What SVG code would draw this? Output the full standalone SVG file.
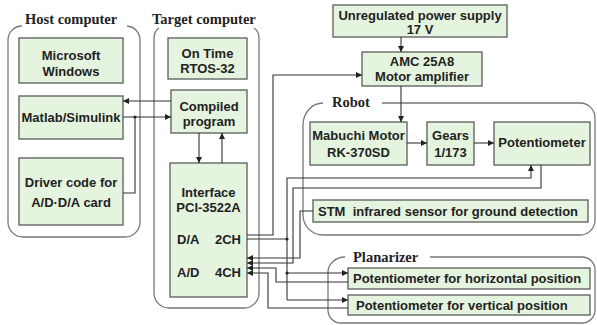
<svg xmlns="http://www.w3.org/2000/svg" width="597" height="325" viewBox="0 0 597 325">
<defs>
<marker id="ah" viewBox="0 0 10 10" refX="10" refY="5" markerWidth="6" markerHeight="6" markerUnits="userSpaceOnUse" orient="auto">
<path d="M0,0 L10,5 L0,10 z" fill="#222"/>
</marker>
<style>
.box{fill:#e5f4df;stroke:#666;stroke-width:1.4}
.panel{fill:none;stroke:#777;stroke-width:1.3}
.t{font-family:"Liberation Sans",Arial,sans-serif;font-weight:bold;font-size:13px;fill:#222;text-anchor:middle}
.ts{font-family:"Liberation Sans",Arial,sans-serif;font-weight:bold;font-size:13px;fill:#222}
.title{font-family:"Liberation Serif","Times New Roman",serif;font-weight:bold;font-size:14.5px;fill:#222}
.w{fill:none;stroke:#333;stroke-width:1.1}
.a{fill:none;stroke:#333;stroke-width:1.1;marker-end:url(#ah)}
</style>
</defs>
<rect width="597" height="325" fill="#fff"/>

<g id="panels">
<g id="host-panel">
<path class="panel" d="M22,26 A14,14 0 0 0 8,40 L8,222 A15,15 0 0 0 23,237 L125,237 A15,15 0 0 0 140,222 L140,40 A14,14 0 0 0 127,26"/>
<text class="title" x="25" y="24">Host computer</text>
</g>
<g id="target-panel">
<path class="panel" d="M159,28 A8,12 0 0 0 154,40 L154,293 A15,15 0 0 0 169,308 L244,308 A15,15 0 0 0 259,293 L259,40 A8,12 0 0 0 254,28"/>
<text class="title" x="152" y="24">Target computer</text>
</g>
<g id="robot-panel">
<path class="panel" d="M323,103 A20,22 0 0 0 303,125 L303,215 A20,20 0 0 0 323,235 L580,235 A15,15 0 0 0 595,220 L595,118 A15,15 0 0 0 580,103 L382,103"/>
<text class="title" x="332" y="107">Robot</text>
</g>
<g id="planarizer-panel">
<path class="panel" d="M345,257 A17,15 0 0 0 328,272 L328,310 A13,13 0 0 0 341,323 L582,323 A13,13 0 0 0 595,310 L595,270 A13,13 0 0 0 582,257 L430,257"/>
<text class="title" x="353" y="262">Planarizer</text>
</g>
</g>

<g id="n-windows"><rect class="box" x="19" y="38" width="104" height="45"/><text class="t" x="71" y="60">Microsoft</text><text class="t" x="71" y="76">Windows</text></g>
<g id="n-matlab"><rect class="box" x="19" y="96" width="104" height="43"/><text class="t" x="71" y="122">Matlab/Simulink</text></g>
<g id="n-driver"><rect class="box" x="19" y="158" width="104" height="67"/><text class="t" x="71" y="187">Driver code for</text><text class="t" x="71" y="207">A/D·D/A card</text></g>
<g id="n-rtos"><rect class="box" x="168" y="38" width="79" height="41"/><text class="t" x="207.5" y="58">On Time</text><text class="t" x="207.5" y="73">RTOS-32</text></g>
<g id="n-compiled"><rect class="box" x="171" y="90" width="76" height="43"/><text class="t" x="209" y="111">Compiled</text><text class="t" x="209" y="126">program</text></g>
<g id="n-interface"><rect class="box" x="170" y="163" width="77" height="134"/><text class="t" x="208.5" y="197">Interface</text><text class="t" x="208.5" y="212">PCI-3522A</text><text class="ts" x="177" y="244">D/A</text><text class="ts" x="241" y="244" text-anchor="end">2CH</text><text class="ts" x="177" y="277">A/D</text><text class="ts" x="241" y="277" text-anchor="end">4CH</text></g>
<g id="n-power"><rect class="box" x="333" y="5" width="174" height="32"/><text class="t" x="420" y="20">Unregulated power supply</text><text class="t" x="420" y="34">17 V</text></g>
<g id="n-amc"><rect class="box" x="362" y="52" width="120" height="34"/><text class="t" x="422" y="66">AMC 25A8</text><text class="t" x="422" y="81">Motor amplifier</text></g>
<g id="n-motor"><rect class="box" x="310" y="122" width="97" height="43"/><text class="t" x="358.5" y="140">Mabuchi Motor</text><text class="t" x="358.5" y="157">RK-370SD</text></g>
<g id="n-gears"><rect class="box" x="427" y="122" width="47" height="43"/><text class="t" x="450.5" y="140">Gears</text><text class="t" x="450.5" y="157">1/173</text></g>
<g id="n-pot"><rect class="box" x="494" y="122" width="96" height="43"/><text class="t" x="542" y="147">Potentiometer</text></g>
<g id="n-stm"><rect class="box" x="313" y="200" width="275" height="22"/><text class="ts" x="318" y="216" xml:space="preserve">STM  infrared sensor for ground detection</text></g>
<g id="n-hpot"><rect class="box" x="348" y="268" width="242" height="21"/><text class="ts" x="353" y="283">Potentiometer for horizontal position</text></g>
<g id="n-vpot"><rect class="box" x="348" y="295" width="242" height="20"/><text class="ts" x="356" y="310">Potentiometer for vertical position</text></g>

<g id="connectors">
<path class="a" d="M171,101 H123"/>
<path class="a" d="M123,117 H171"/>
<path class="w" d="M135,117 V193 H123"/>
<circle cx="135" cy="117" r="1.6" fill="#222"/>
<path class="a" d="M199,133 V163"/>
<path class="a" d="M222,163 V133"/>
<path class="a" d="M401,37 V52"/>
<path class="a" d="M401,86 V122"/>
<path class="a" d="M407,143 H427"/>
<path class="a" d="M474,143 H494"/>
<path class="a" d="M247,235 H273 V75 H362"/>
<path class="w" d="M247,239 H287"/>
<path class="a" d="M287,239 V178 H531 V165"/>
<path class="w" d="M287,239 V300"/>
<path class="a" d="M287,273 H348"/>
<path class="a" d="M287,300 H348"/>
<circle cx="287" cy="239" r="1.6" fill="#222"/>
<circle cx="287" cy="273" r="1.6" fill="#222"/>
<path class="a" d="M313,211 H300 V258 H247"/>
<path class="a" d="M541,165 V188 H293 V263 H247"/>
<path class="a" d="M348,282 H276 V268 H247"/>
<path class="a" d="M348,308 H268 V273 H247"/>
</g>
</svg>
